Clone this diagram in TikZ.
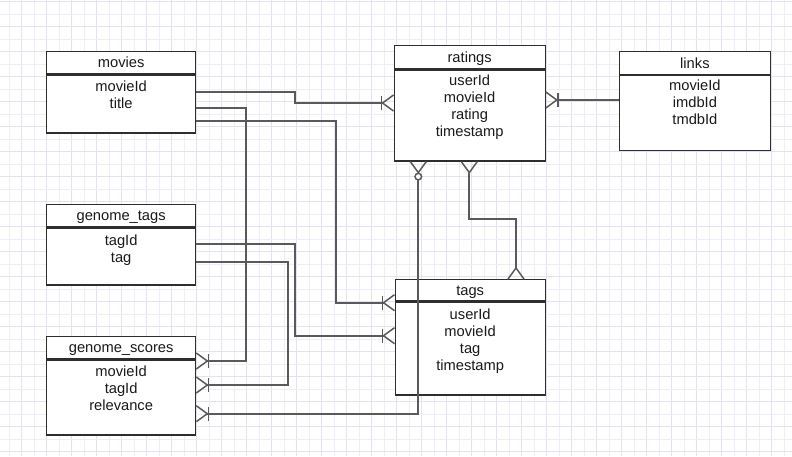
\documentclass[tikz,border=0pt]{standalone}
\usepackage{fontspec}
\setmainfont{Liberation Sans}
\usetikzlibrary{calc}
\definecolor{boxline}{HTML}{2E2E2E}
\definecolor{conncol}{HTML}{5A5A5A}
\definecolor{gridmaj}{HTML}{E2E2F3}
\definecolor{gridmin}{HTML}{EEEEF8}
\definecolor{txt}{HTML}{1A1A1A}
\tikzset{
  entbox/.style={draw=boxline, line width=1.3pt, fill=white, inner sep=0pt, anchor=north west},
  hdrbox/.style={entbox, text=txt, font=\fontsize{14.7}{17}\selectfont, text height=10.5pt, text depth=0pt},
  fieldtext/.style={inner sep=0pt, anchor=north, align=center, text=txt, font=\fontsize{14.7}{17}\selectfont},
  connline/.style={draw=conncol, line width=1.8pt},
  mk/.style={draw=conncol, line width=1.5pt},
  crow/.pic={\draw[mk] (0,8) -- (11,0) -- (0,-8);},
  onebar/.pic={\draw[mk] (12,-7) -- (12,7);},
  ring/.pic={\draw[mk, fill=white] (15,0) circle (3.3);},
}
\begin{document}
\begin{tikzpicture}[x=1pt,y=-1pt]
\useasboundingbox (0,0) rectangle (792,456);
\fill[white] (0,0) rectangle (792,456);
% grid
\foreach \i in {0,...,63} {
  \pgfmathsetmacro{\gx}{9.2+12.5*\i}
  \ifodd\i
    \draw[gridmaj, line width=0.8pt] (\gx,0) -- (\gx,456);
  \else
    \draw[gridmin, line width=0.6pt] (\gx,0) -- (\gx,456);
  \fi
}
\foreach \j in {0,...,36} {
  \pgfmathsetmacro{\gy}{1.7+12.5*\j}
  \ifodd\j
    \draw[gridmin, line width=0.6pt] (0,\gy) -- (792,\gy);
  \else
    \draw[gridmaj, line width=0.8pt] (0,\gy) -- (792,\gy);
  \fi
}
% entities
\node[hdrbox, minimum width=149, minimum height=22] (moviesH) at (46,51) {movies};
\node[entbox, minimum width=149, minimum height=58] (moviesB) at (moviesH.south west) {};
\node[fieldtext] (moviesF) at ($(moviesB.north)+(0,5.4)$) {\strut movieId\\\strut title};

\node[hdrbox, minimum width=149, minimum height=22] (gtagsH) at (46,204) {genome\_tags};
\node[entbox, minimum width=149, minimum height=57] (gtagsB) at (gtagsH.south west) {};
\node[fieldtext] (gtagsF) at ($(gtagsB.north)+(0,5.7)$) {\strut tagId\\\strut tag};

\node[hdrbox, minimum width=149, minimum height=22] (gscoresH) at (46,336) {genome\_scores};
\node[entbox, minimum width=149, minimum height=75] (gscoresB) at (gscoresH.south west) {};
\node[fieldtext] (gscoresF) at ($(gscoresB.north)+(0,5.4)$) {\strut movieId\\\strut tagId\\\strut relevance};

\node[hdrbox, minimum width=151, minimum height=23] (ratingsH) at (393.5,45) {ratings};
\node[entbox, minimum width=151, minimum height=91] (ratingsB) at (ratingsH.south west) {};
\node[fieldtext] (ratingsF) at ($(ratingsB.north)+(0,4.4)$) {\strut userId\\\strut movieId\\\strut rating\\\strut timestamp};

\node[hdrbox, minimum width=150.5, minimum height=22.5] (linksH) at (619,51) {links};
\node[entbox, minimum width=150.5, minimum height=75] (linksB) at (linksH.south west) {};
\node[fieldtext] (linksF) at ($(linksB.north)+(0,3.9)$) {\strut movieId\\\strut imdbId\\\strut tmdbId};

\node[hdrbox, minimum width=150, minimum height=21] (tagsH) at (394.5,279) {tags};
\node[entbox, minimum width=150, minimum height=93] (tagsB) at (tagsH.south west) {};
\node[fieldtext] (tagsF) at ($(tagsB.north)+(0,6.1)$) {\strut userId\\\strut movieId\\\strut tag\\\strut timestamp};

% connector end points
\coordinate (m1) at (moviesB.east |- 0,91.7);
\coordinate (m2) at (moviesB.east |- 0,108);
\coordinate (m3) at (moviesB.east |- 0,121);
\coordinate (gt1) at (gtagsB.east |- 0,243.7);
\coordinate (gt2) at (gtagsB.east |- 0,262.3);
\coordinate (r1) at (ratingsB.west |- 0,103);
\coordinate (r2) at (ratingsB.east |- 0,100);
\coordinate (r3) at (ratingsB.south -| 418.3,0);
\coordinate (r4) at (ratingsB.south -| 469.3,0);
\coordinate (l1) at (linksB.west |- 0,100);
\coordinate (t1) at (tagsB.west |- 0,302.7);
\coordinate (t2) at (tagsB.west |- 0,335.7);
\coordinate (t3) at (tagsH.north -| 516,0);
\coordinate (gs1) at (gscoresB.east |- 0,361);
\coordinate (gs2) at (gscoresB.east |- 0,385);
\coordinate (gs3) at (gscoresB.east |- 0,413.7);

% connectors
\draw[connline, shorten >=11pt] (m1) -- (295,91.7) -- (295,103) -- (r1);
\draw[connline, shorten >=11pt] (m2) -- (246,108) -- (246,361) -- (gs1);
\draw[connline, shorten >=11pt] (m3) -- (336,121) -- (336,302.7) -- (t1);
\draw[connline, shorten >=11pt] (gt1) -- (295,243.7) -- (295,335.7) -- (t2);
\draw[connline, shorten >=11pt] (gt2) -- (288,262.3) -- (288,385) -- (gs2);
\draw[connline, shorten <=18.3pt, shorten >=11pt] (r3) -- (418.3,413.7) -- (gs3);
\draw[connline, shorten <=11pt, shorten >=11pt] (r4) -- (469.3,219.3) -- (516,219.3) -- (t3);
\draw[connline, shorten >=11pt] (l1) -- (r2);

% markers
\foreach \p in {r1,t1,t2} { \pic[rotate=180] at (\p) {crow}; \pic[rotate=180] at (\p) {onebar}; }
\foreach \p in {gs1,gs2,gs3,r2} { \pic at (\p) {crow}; \pic at (\p) {onebar}; }
\pic[rotate=-90] at (r3) {crow};
\pic[rotate=-90] at (r3) {ring};
\pic[rotate=-90] at (r4) {crow};
\pic[rotate=90] at (t3) {crow};
\end{tikzpicture}
\end{document}
